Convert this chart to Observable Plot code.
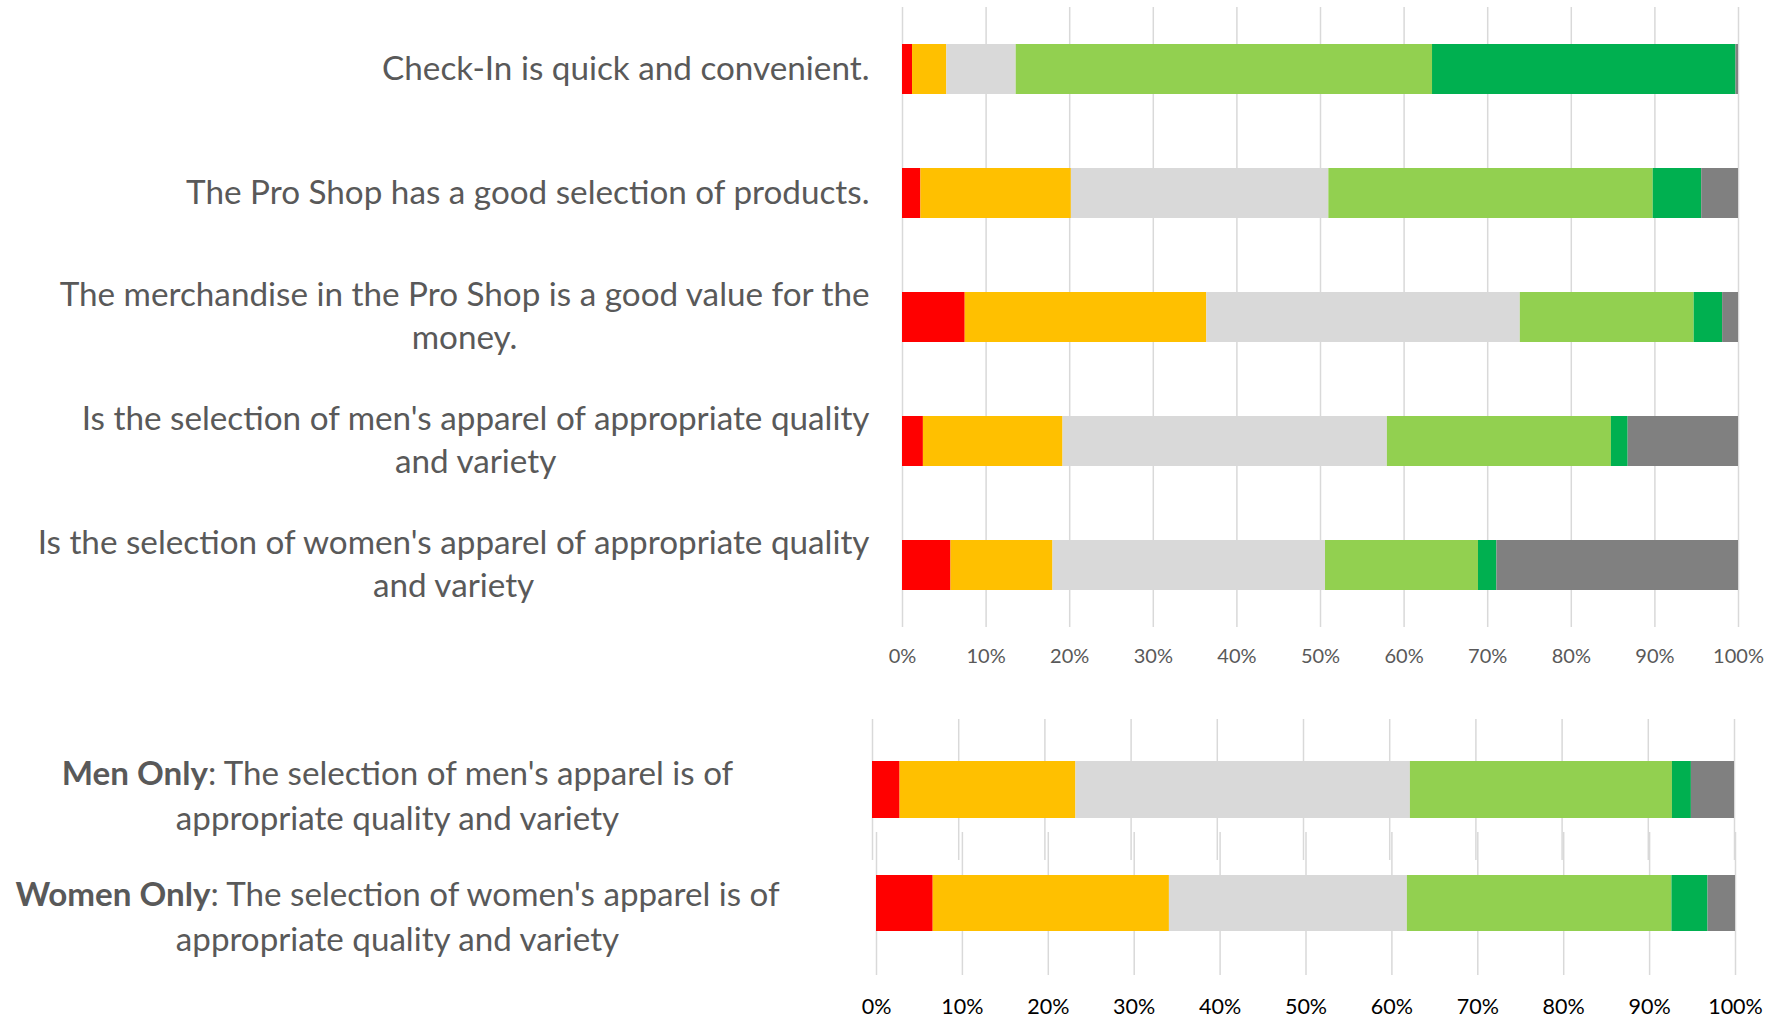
<!DOCTYPE html>
<html>
<head>
<meta charset="utf-8">
<script src="https://cdn.jsdelivr.net/npm/d3@7"></script>
<script src="https://cdn.jsdelivr.net/npm/@observablehq/plot@0.6"></script>
<style>
  body { margin: 0; background: #fff; }
  #wrap { position: relative; width: 1781px; height: 1021px; overflow: hidden; font-family: Lato, sans-serif; }
  #wrap svg { position: absolute; left: 0; max-width: none; }
</style>
</head>
<body>
<div id="wrap"></div>
<script>
// ---- data ----
const questions = [
  "Check-In is quick and convenient.",
  "The Pro Shop has a good selection of products.",
  "The merchandise in the Pro Shop is a good value for the\nmoney.",
  "Is the selection of men's apparel of appropriate quality\nand variety",
  "Is the selection of women's apparel of appropriate quality\nand variety",
  "Men Only: The selection of men's apparel is of\nappropriate quality and variety",
  "Women Only: The selection of women's apparel is of\nappropriate quality and variety"
];
const boldPrefixes = ["Men Only", "Women Only"];
const responses = ["Strongly Disagree", "Disagree", "Neutral", "Agree", "Strongly Agree", "N/A"];
const colors = ["#ff0000", "#ffc000", "#d9d9d9", "#92d050", "#00b050", "#808080"];

const stronglyDisagree = [1.2, 2.2, 7.5, 2.5, 5.8, 3.2, 6.6];
const disagree         = [4.1, 18.0, 28.9, 16.7, 12.2, 20.4, 27.5];
const neutral          = [8.3, 30.8, 37.5, 38.8, 32.6, 38.8, 27.7];
const agree            = [49.8, 38.8, 20.8, 26.8, 18.3, 30.4, 30.8];
const stronglyAgree    = [36.3, 5.8, 3.4, 2.0, 2.2, 2.2, 4.2];
const notApplicable    = [0.3, 4.4, 1.9, 13.2, 28.9, 5.0, 3.2];

const tickValues = [0, 10, 20, 30, 40, 50, 60, 70, 80, 90, 100];

// ---- table ----
const series = [stronglyDisagree, disagree, neutral, agree, stronglyAgree, notApplicable];
const rows = [];
questions.forEach((q, i) => responses.forEach((r, j) => rows.push({question: q, response: r, value: series[j][i]})));

// ---- font fitting ----
const ctx = document.createElement("canvas").getContext("2d");
function measure(text, font) { ctx.font = font; return ctx.measureText(text).width; }
const topFont = 834 / measure("Is the selection of women's apparel of appropriate quality", "100px Lato") * 100;
const botFont = 445 / measure("appropriate quality and variety", "100px Lato") * 100;

const wrap = document.getElementById("wrap");
const baseStyle = {fontFamily: "Lato, sans-serif", background: "transparent", overflow: "visible"};
const grid = () => Plot.gridX(tickValues, {stroke: "#d9d9d9", strokeOpacity: 1, strokeWidth: 1.5});
const bars = (qs) => Plot.barX(rows.filter(d => qs.includes(d.question)),
  Plot.stackX({x: "value", y: "question", fill: "response", order: responses}));

// ---- top chart ----
const topQs = questions.slice(0, 5);
const topChart = Plot.plot({
  width: 1781, height: 690,
  marginLeft: 902, marginRight: 43, marginTop: 7, marginBottom: 63,
  style: baseStyle,
  x: {domain: [0, 100]},
  y: {domain: topQs, paddingInner: 0.6, paddingOuter: 0.3},
  color: {domain: responses, range: colors},
  marks: [
    grid(),
    bars(topQs),
    Plot.axisX(tickValues, {tickSize: 0, tickPadding: 21, tickFormat: d => d + "%", fontSize: 20, fill: "#595959", label: null}),
    Plot.axisY({tickSize: 0, tickPadding: 33, dy: -3.5, fontSize: topFont, lineHeight: 42.5 / topFont, fill: "#595959", label: null})
  ]
});
topChart.style.top = "0px";
wrap.appendChild(topChart);

// ---- men only ----
const menQ = [questions[5]];
const menChart = Plot.plot({
  width: 1781, height: 165,
  marginLeft: 872, marginRight: 47, marginTop: 19, marginBottom: 5,
  style: baseStyle,
  x: {domain: [0, 100], axis: null},
  y: {domain: menQ, paddingInner: 0.424, paddingOuter: 0.424},
  color: {domain: responses, range: colors},
  marks: [
    grid(),
    bars(menQ),
    Plot.axisY({tickSize: 0, tickPadding: 475, textAnchor: "middle", dy: 3, fontSize: botFont, lineHeight: 45 / botFont, fill: "#595959", label: null})
  ]
});
menChart.style.top = "700px";
wrap.appendChild(menChart);

// ---- women only ----
const womenQ = [questions[6]];
const womenChart = Plot.plot({
  width: 1781, height: 211,
  marginLeft: 876, marginRight: 46, marginTop: 22, marginBottom: 46,
  style: baseStyle,
  x: {domain: [0, 100]},
  y: {domain: womenQ, paddingInner: 0.43, paddingOuter: 0.43},
  color: {domain: responses, range: colors},
  marks: [
    grid(),
    bars(womenQ),
    Plot.axisX(tickValues, {tickSize: 0, tickPadding: 23, tickFormat: d => d + "%", fontSize: 21.5, fill: "#000", label: null}),
    Plot.axisY({tickSize: 0, tickPadding: 479, textAnchor: "middle", dy: 10.5, fontSize: botFont, lineHeight: 45 / botFont, fill: "#595959", label: null})
  ]
});
womenChart.style.top = "810px";
wrap.appendChild(womenChart);

// ---- center multi-line label blocks in top chart ----
topChart.querySelectorAll('g[aria-label="y-axis tick label"] text').forEach(t => {
  const spans = t.querySelectorAll("tspan");
  if (spans.length < 2) return;
  const w = t.getBBox().width;
  t.setAttribute("text-anchor", "middle");
  spans.forEach(s => s.setAttribute("x", -w / 2));
});

// ---- bold prefixes in bottom labels ----
const NS = "http://www.w3.org/2000/svg";
[menChart, womenChart].forEach(svg => {
  svg.querySelectorAll('g[aria-label="y-axis tick label"] tspan').forEach(s => {
    const txt = s.textContent;
    const p = boldPrefixes.find(b => txt.startsWith(b));
    if (!p) return;
    s.textContent = "";
    const b = document.createElementNS(NS, "tspan");
    b.setAttribute("font-weight", "bold");
    b.textContent = p;
    s.appendChild(b);
    s.appendChild(document.createTextNode(txt.slice(p.length)));
  });
});
</script>
</body>
</html>
